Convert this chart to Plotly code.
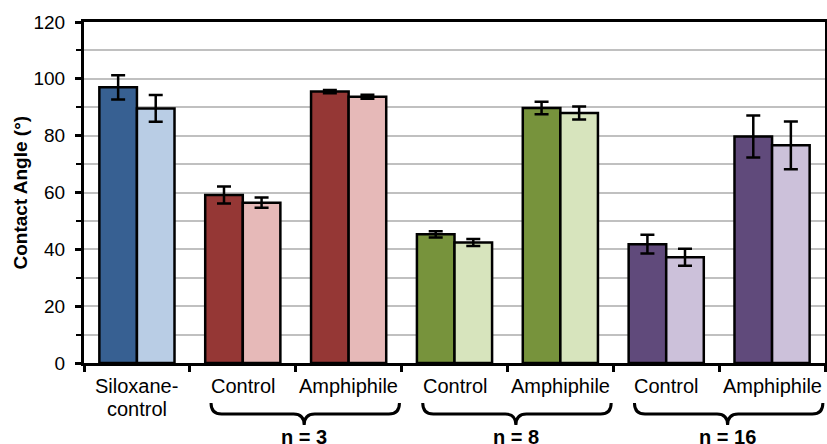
import plotly.graph_objects as go

# ---- data ----
categories = ["Siloxane-control", "Control", "Amphiphile", "Control", "Amphiphile", "Control", "Amphiphile"]
dark_values = [97.0, 59.1, 95.5, 45.3, 89.7, 41.8, 79.7]
dark_errors = [4.3, 3.0, 0.6, 1.1, 2.2, 3.3, 7.4]
light_values = [89.6, 56.4, 93.7, 42.4, 88.0, 37.2, 76.6]
light_errors = [4.7, 1.8, 0.7, 1.2, 2.3, 3.0, 8.4]
dark_colors = ["#376092", "#953735", "#953735", "#77933C", "#77933C", "#604A7B", "#604A7B"]
light_colors = ["#B9CDE5", "#E6B9B8", "#E6B9B8", "#D7E4BD", "#D7E4BD", "#CCC1DA", "#CCC1DA"]
group_labels = ["n = 3", "n = 8", "n = 16"]
group_members = [[1, 2], [3, 4], [5, 6]]
y_title = "Contact Angle (°)"
y_ticks = [0, 20, 40, 60, 80, 100, 120]

x = list(range(len(categories)))

fig = go.Figure()
for vals, errs, cols in [(dark_values, dark_errors, dark_colors),
                         (light_values, light_errors, light_colors)]:
    fig.add_trace(go.Bar(
        x=x, y=vals,
        marker=dict(color=cols, line=dict(color="black", width=2.5)),
        error_y=dict(type="data", array=errs, color="black", thickness=2.5, width=7),
        showlegend=False, hoverinfo="skip",
    ))

annotations = []
shapes = []
FONT = "Liberation Sans, Arial, sans-serif"

def py(px):
    # pixel offset below/above the plot area -> paper coordinate
    return (363 - px) / 341.0

for i, c in enumerate(categories):
    if c.startswith("Siloxane-"):
        parts = ["Siloxane-", "control"]
        for k, p in enumerate(parts):
            annotations.append(dict(x=i, xref="x", y=py(386 + 23.5 * k), yref="paper",
                                    text=p, showarrow=False, xanchor="center", yanchor="middle",
                                    font=dict(family=FONT, size=20, color="black")))
    else:
        annotations.append(dict(x=i, xref="x", y=py(386), yref="paper",
                                text=c, showarrow=False, xanchor="center", yanchor="middle",
                                font=dict(family=FONT, size=20, color="black")))

for lab, mem in zip(group_labels, group_members):
    xl = mem[0] - 0.5 + 0.2
    xr = mem[-1] + 0.5 - 0.02
    xc = (mem[0] + mem[-1]) / 2 + 0.08
    y0, y1, y2 = py(403), py(414), py(425)
    d = 0.1
    path = (f"M {xl},{y0} Q {xl},{y1} {xl+d},{y1} L {xc-d},{y1} Q {xc},{y1} {xc},{y2} "
            f"Q {xc},{y1} {xc+d},{y1} L {xr-d},{y1} Q {xr},{y1} {xr},{y0}")
    shapes.append(dict(type="path", path=path, xref="x", yref="paper",
                       line=dict(color="black", width=3)))
    annotations.append(dict(x=xc, xref="x", y=py(424), yref="paper", text=f"<b>{lab}</b>",
                            showarrow=False, xanchor="center", yanchor="top",
                            font=dict(family=FONT, size=20, color="black")))

annotations.append(dict(x=(20 - 84) / 741.0, xref="paper", y=0.5, yref="paper",
                        text=f"<b>{y_title}</b>", textangle=-90, showarrow=False,
                        xanchor="center", yanchor="middle",
                        font=dict(family=FONT, size=19, color="black")))

fig.update_layout(
    width=827, height=444,
    margin=dict(l=84, r=2, t=22, b=81),
    plot_bgcolor="white", paper_bgcolor="white",
    barmode="group", bargap=0.29, bargroupgap=0,
    annotations=annotations, shapes=shapes,
    font=dict(family=FONT, color="black"),
)
fig.update_xaxes(
    range=[-0.5, len(categories) - 0.5],
    tickmode="array", tickvals=[i - 0.5 for i in range(len(categories) + 1)],
    ticktext=[""] * (len(categories) + 1),
    ticks="outside", ticklen=6, tickwidth=2.5, tickcolor="black",
    showline=True, linecolor="black", linewidth=3, mirror=True,
    showgrid=False, zeroline=False, automargin=False,
)
fig.update_yaxes(
    range=[0, 120], tickmode="array", tickvals=y_ticks,
    ticks="outside", ticklen=6, tickwidth=2.5, tickcolor="black",
    tickfont=dict(family=FONT, size=19, color="black"),
    showline=True, linecolor="black", linewidth=3, mirror=True,
    showgrid=True, gridcolor="#C0C0C0", gridwidth=2,
    minor=dict(dtick=10, tick0=0, ticks="outside", ticklen=5, tickwidth=2, tickcolor="black",
               showgrid=True, gridcolor="#C0C0C0", gridwidth=2),
    zeroline=False, ticklabelstandoff=6, automargin=False,
)

fig.write_html("out.html", config={"displayModeBar": False},
               post_script="document.body.style.margin='0px';document.body.style.padding='0px';")
